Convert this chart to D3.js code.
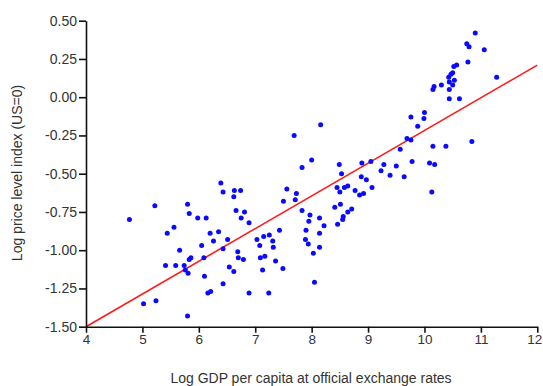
<!DOCTYPE html>
<html><head><meta charset="utf-8">
<script src="https://cdn.jsdelivr.net/npm/d3@7"></script>
<style>
html,body{margin:0;padding:0;background:#fff;}
svg{display:block;}
text{font-family:"Liberation Sans",Arial,sans-serif;}
</style></head>
<body>
<svg id="chart" width="543" height="386"></svg>
<script>
// Log GDP per capita (x) and log price level (y)
const gdp = [4.77,5.22,5.44,5.41,5.02,5.24,6.39,6.43,6.63,6.74,6.62,5.80,5.83,5.98,6.13,6.66,6.81,6.75,5.56,6.35,6.20,6.26,6.51,6.05,5.66,6.43,6.69,6.70,6.79,5.86,5.83,6.09,5.59,5.74,6.54,6.62,5.76,5.81,6.10,6.43,6.16,6.21,5.80,6.89,7.03,7.15,7.25,7.31,7.43,7.08,7.32,7.56,7.73,7.50,7.71,7.83,7.83,7.97,7.95,7.90,7.89,7.94,7.09,7.17,7.13,7.36,7.49,6.89,7.24,8.16,7.69,8.00,8.14,8.14,8.14,8.03,8.05,8.49,8.53,8.89,9.05,9.28,9.23,9.39,8.88,8.97,8.45,8.50,8.58,8.64,8.77,8.85,8.92,9.07,8.41,8.51,8.71,8.64,8.56,8.55,8.46,8.22,9.50,9.64,9.78,10.09,10.18,10.13,9.57,10.15,10.38,10.84,9.69,9.76,9.88,9.76,10.00,9.99,10.15,10.17,10.30,10.44,10.62,10.44,10.44,10.53,10.50,10.43,10.47,10.50,10.52,10.57,10.77,10.75,10.79,11.06,10.90,11.28];
const price = [-0.80,-0.71,-0.89,-1.10,-1.35,-1.33,-0.56,-0.62,-0.61,-0.61,-0.65,-0.70,-0.76,-0.79,-0.79,-0.74,-0.75,-0.79,-0.85,-0.88,-0.89,-0.94,-0.93,-0.97,-1.00,-0.99,-1.01,-1.05,-1.06,-1.05,-1.06,-1.05,-1.10,-1.10,-1.11,-1.14,-1.13,-1.15,-1.17,-1.22,-1.28,-1.27,-1.43,-0.82,-0.93,-0.91,-0.90,-0.94,-0.87,-0.97,-0.98,-0.60,-0.63,-0.68,-0.67,-0.74,-0.46,-0.77,-0.81,-0.87,-0.93,-0.96,-1.05,-1.04,-1.13,-1.07,-1.12,-1.28,-1.28,-0.18,-0.25,-0.41,-0.79,-0.89,-0.98,-1.02,-1.21,-0.44,-0.50,-0.43,-0.42,-0.44,-0.48,-0.51,-0.52,-0.54,-0.59,-0.62,-0.59,-0.58,-0.61,-0.64,-0.63,-0.59,-0.72,-0.70,-0.73,-0.75,-0.78,-0.80,-0.83,-0.84,-0.45,-0.52,-0.42,-0.43,-0.44,-0.62,-0.34,-0.32,-0.32,-0.29,-0.27,-0.28,-0.19,-0.13,-0.10,-0.14,0.05,0.07,0.08,-0.01,-0.01,0.05,0.10,0.11,0.08,0.13,0.15,0.16,0.20,0.21,0.23,0.35,0.33,0.31,0.42,0.13];
// fitted regression line endpoints
const fitX = [4, 12];
const fitY = [-1.50, 0.21];
const xTicks = [4,5,6,7,8,9,10,11,12];
const yTicks = [0.50,0.25,0.00,-0.25,-0.50,-0.75,-1.00,-1.25,-1.50];
const xTitle = "Log GDP per capita at official exchange rates";
const yTitle = "Log price level index (US=0)";

const svg = d3.select("#chart");
const x = d3.scaleLinear().domain([4,12]).range([86,537.3]);
const y = d3.scaleLinear().domain([-1.5,0.5]).range([326.7,20.7]);

// regression line
svg.append("line")
  .attr("x1", x(fitX[0])).attr("y1", y(fitY[0]))
  .attr("x2", x(fitX[1])).attr("y2", y(fitY[1]))
  .attr("stroke","#ff1a1a").attr("stroke-width",1.6);

// points
svg.append("g").selectAll("circle")
  .data(gdp.map((g,i)=>[g,price[i]]))
  .join("circle")
  .attr("cx", d=>x(d[0])).attr("cy", d=>y(d[1]))
  .attr("r", 2.5).attr("fill","#0a0aff");

// axes
const xAxis = svg.append("g").attr("transform",`translate(0,${y(-1.5)})`)
  .call(d3.axisBottom(x).tickValues(xTicks).tickFormat(d3.format("d")).tickSize(6).tickSizeOuter(0).tickPadding(2));
const yAxis = svg.append("g").attr("transform",`translate(${x(4)},0)`)
  .call(d3.axisLeft(y).tickValues(yTicks).tickFormat(d3.format(".2f")).tickSize(7).tickSizeOuter(0).tickPadding(2));
[xAxis,yAxis].forEach(a=>{
  a.selectAll("path,line").attr("stroke","#111").attr("stroke-width",1.6);
  a.selectAll("text").attr("font-size",14).attr("fill","#333")
   .attr("font-family","'Liberation Sans',Arial,sans-serif");
});
yAxis.selectAll("text").text(d=>d3.format(".2f")(d).replace("−","-"));
xAxis.selectAll("text").attr("font-size",13.5);
xAxis.selectAll("text").filter(d=>d===12).attr("text-anchor","end").attr("dx","4.5");

svg.append("text").attr("x",311).attr("y",383).attr("text-anchor","middle")
  .attr("font-size",14).attr("fill","#333").text(xTitle);
svg.append("text").attr("transform","translate(22,173) rotate(-90)")
  .attr("text-anchor","middle").attr("font-size",14).attr("fill","#333").text(yTitle);
</script>
</body></html>
